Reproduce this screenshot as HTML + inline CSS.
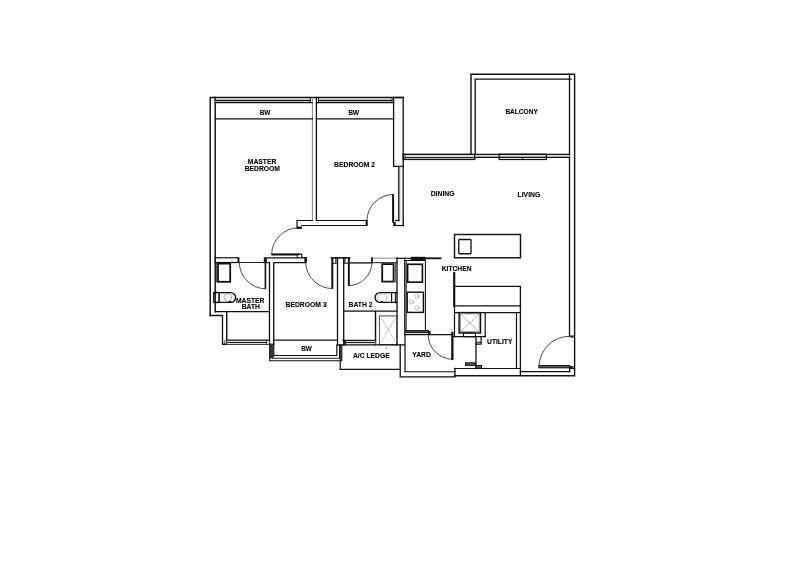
<!DOCTYPE html>
<html><head><meta charset="utf-8"><title>Floor plan</title>
<style>
html,body{margin:0;padding:0;background:#fff;}
body{width:800px;height:566px;overflow:hidden;}
svg{display:block;filter:grayscale(1);}
svg text{font-family:"Liberation Sans",sans-serif;font-weight:700;stroke:#000;stroke-width:0.12;fill:#000;}
</style></head><body>
<svg width="800" height="566" viewBox="0 0 800 566">
<rect width="800" height="566" fill="#fff"/>
<g stroke-linecap="square" stroke-linejoin="miter">
<path d="M210.2,315.5 L210.2,97.5 L403.2,97.5" stroke="#111" stroke-width="1.44" fill="none" />
<path d="M215.2,97.5 L215.2,311.7" stroke="#111" stroke-width="1.44" fill="none" />
<rect x="215.2" y="100.4" width="95.1" height="2.2" fill="#bbb"/>
<path d="M215.2,100.45 L310.3,100.45" stroke="#111" stroke-width="1.26" fill="none" />
<path d="M215.2,102.6 L312.5,102.6" stroke="#111" stroke-width="1.38" fill="none" />
<path d="M310.3,97.5 L310.3,102.6" stroke="#111" stroke-width="0.96" fill="none" />
<path d="M312.4,97.5 L312.4,220.5" stroke="#666" stroke-width="0.84" fill="none" />
<path d="M316.4,97.5 L316.4,220.5" stroke="#111" stroke-width="1.32" fill="none" />
<rect x="318.5" y="100.4" width="73.5" height="2.2" fill="#bbb"/>
<path d="M318.5,100.45 L392,100.45" stroke="#111" stroke-width="1.26" fill="none" />
<path d="M316.5,102.6 L393.6,102.6" stroke="#111" stroke-width="1.38" fill="none" />
<path d="M318.5,97.5 L318.5,102.6" stroke="#111" stroke-width="0.96" fill="none" />
<path d="M392,97.5 L392,102.6" stroke="#111" stroke-width="0.96" fill="none" />
<path d="M215.2,118.9 L312.4,118.9" stroke="#111" stroke-width="1.2" fill="none" />
<path d="M316.4,118.9 L393.6,118.9" stroke="#111" stroke-width="1.2" fill="none" />
<rect x="393.6" y="97.5" width="9.6" height="68.9" stroke="#111" stroke-width="1.32" fill="none"/>
<path d="M398.8,166.4 L398.8,220.5" stroke="#111" stroke-width="1.32" fill="none" />
<path d="M399.9,166.4 L399.9,220.5" stroke="#888" stroke-width="0.6" fill="none" />
<path d="M403.2,166.4 L403.2,225.5" stroke="#111" stroke-width="1.32" fill="none" />
<rect x="405" y="154.4" width="69.8" height="3.0" fill="#ddd"/>
<path d="M405,157.45 L474.8,157.45" stroke="#1a1a1a" stroke-width="1.02" fill="none" />
<path d="M405,154.2 L405,159.3" stroke="#111" stroke-width="0.84" fill="none" />
<rect x="403.2" y="154.3" width="71.6" height="5.1" stroke="#111" stroke-width="1.38" fill="none"/>
<path d="M471,154.2 L471,74.25 L574.6,74.25 L574.6,375.7 L454.6,375.7" stroke="#111" stroke-width="1.44" fill="none" />
<path d="M475.2,157.6 L475.2,79.2 L571,79.2" stroke="#111" stroke-width="1.32" fill="none" />
<path d="M569.5,74.25 L569.5,335.6" stroke="#111" stroke-width="1.32" fill="none" />
<rect x="475.2" y="154.4" width="94.3" height="3.0" fill="#ddd"/>
<path d="M475.2,154.4 L569.5,154.4" stroke="#111" stroke-width="1.2" fill="none" />
<path d="M475.2,157.4 L569.5,157.4" stroke="#111" stroke-width="1.2" fill="none" />
<rect x="499.2" y="154.2" width="47.1" height="5.3" stroke="#111" stroke-width="1.2" fill="none"/>
<path d="M522.75,157.6 L522.75,159.5" stroke="#111" stroke-width="0.96" fill="none" />
<path d="M569.5,336.1 L574.5,336.1" stroke="#111" stroke-width="1.2" fill="none" />
<rect x="570.5" y="336.1" width="3.0" height="1.7" fill="#333"/>
<path d="M569.5,368.6 L574.5,368.6" stroke="#111" stroke-width="1.08" fill="none" />
<rect x="570" y="366" width="3.5" height="2.2" fill="#333"/>
<rect x="538.9" y="365.6" width="30.7" height="2.2" stroke="#111" stroke-width="1.08" fill="#666"/>
<path d="M539,365.6 A30.2,30.2 0 0 1 569.4,336.3" stroke="#222" stroke-width="0.8" fill="none"/>
<path d="M520.4,371.7 L569.7,371.7" stroke="#111" stroke-width="1.2" fill="none" />
<path d="M569.7,366 L569.7,371.7" stroke="#111" stroke-width="1.2" fill="none" />
<path d="M316.4,220.5 L366.9,220.5 L366.9,225.5 L301.7,225.5" stroke="#111" stroke-width="1.2" fill="none" />
<path d="M312.4,220.5 L297,220.5 L297,228.3" stroke="#111" stroke-width="1.2" fill="none" />
<rect x="297" y="226.6" width="4.9" height="2.3" fill="#111"/>
<rect x="365.7" y="220.5" width="1.8" height="5.0" fill="#111"/>
<path d="M366.9,220.5 A26,26 0 0 1 393,194.5" stroke="#222" stroke-width="0.8" fill="none"/>
<rect x="392.1" y="194.3" width="2.0" height="28.3" fill="#111"/>
<rect x="393.3" y="222" width="2.4" height="3.5" fill="#111"/>
<path d="M395.5,220.5 L398.8,220.5" stroke="#111" stroke-width="1.2" fill="none" />
<path d="M393.6,225.5 L403.2,225.5" stroke="#111" stroke-width="1.2" fill="none" />
<path d="M298.3,227.8 A26.7,26.7 0 0 0 271.6,254.4" stroke="#222" stroke-width="0.8" fill="none"/>
<rect x="271.5" y="253.4" width="27.3" height="2.1" fill="#111"/>
<path d="M298.6,254.2 L301.7,254.2 L301.7,257.6 L306.2,257.6" stroke="#111" stroke-width="1.2" fill="none" />
<rect x="304.4" y="257.2" width="2.5" height="5.5" fill="#111"/>
<path d="M297.2,255.5 L297.2,257.9" stroke="#111" stroke-width="0.96" fill="none" />
<rect x="215.2" y="257.75" width="23.5" height="4.75" stroke="#111" stroke-width="1.2" fill="none"/>
<rect x="237.5" y="257.75" width="1.7" height="4.75" fill="#111"/>
<path d="M238.7,262.5 L264.8,262.5" stroke="#111" stroke-width="0.96" fill="none" />
<path d="M269.5,262.6 L264.4,262.6 L264.4,257.9 L301.7,257.9" stroke="#111" stroke-width="1.2" fill="none" />
<path d="M273.7,262.7 L305.4,262.7" stroke="#111" stroke-width="1.2" fill="none" />
<rect x="264.3" y="258" width="2.6" height="4.6" fill="#222"/>
<rect x="264.6" y="262.5" width="1.6" height="26.5" fill="#111"/>
<path d="M239.3,262.5 A26.2,26.2 0 0 0 265.3,288.8" stroke="#222" stroke-width="0.8" fill="none"/>
<path d="M269.5,262.6 L269.5,344.25" stroke="#111" stroke-width="1.32" fill="none" />
<path d="M273.7,262.6 L273.7,355.5" stroke="#111" stroke-width="1.32" fill="none" />
<rect x="218" y="263.6" width="12.2" height="18.2" stroke="#111" stroke-width="1.8" fill="none"/>
<path d="M216.3,263 L216.3,282" stroke="#111" stroke-width="0.84" fill="none" />
<rect x="213.9" y="292.6" width="5.2" height="9.8" stroke="#111" stroke-width="1.56" fill="none"/>
<path d="M219.1,292.6 H230.7 A4.9,4.9 0 0 1 230.7,302.4 H219.1" stroke="#111" stroke-width="1.4" fill="none"/>
<ellipse cx="227.8" cy="297.4" rx="3.8" ry="3.7" stroke="#777" stroke-width="0.6" fill="none"/>
<rect x="228.8" y="301" width="2.6" height="1.6" fill="#111"/>
<path d="M215.2,311.7 L269.3,311.7" stroke="#111" stroke-width="1.2" fill="none" />
<path d="M210.2,315.5 L222.5,315.5 L222.5,344.25 L269.3,344.25" stroke="#111" stroke-width="1.32" fill="none" />
<path d="M226.7,311.7 L226.7,344.25" stroke="#111" stroke-width="1.44" fill="none" />
<path d="M224.8,340.2 L224.8,344.25" stroke="#111" stroke-width="0.72" fill="none" />
<rect x="226.7" y="340.2" width="42.6" height="4.05" fill="#ddd"/>
<path d="M226.7,340.2 L269.3,340.2" stroke="#111" stroke-width="1.32" fill="none" />
<path d="M226.7,342.45 L266.5,342.45" stroke="#1a1a1a" stroke-width="1.02" fill="none" />
<path d="M266.5,340.2 L266.5,344.25" stroke="#111" stroke-width="0.72" fill="none" />
<path d="M273.8,340.2 L337.5,340.2" stroke="#111" stroke-width="1.2" fill="none" />
<rect x="269.75" y="345" width="4.05" height="13" fill="#3a3a3a"/>
<path d="M269.75,344.25 L269.75,360.75 L341.75,360.75 L341.75,345" stroke="#111" stroke-width="1.2" fill="none" />
<path d="M273.8,355.5 L336.8,355.5 L336.8,345" stroke="#111" stroke-width="1.2" fill="none" />
<path d="M271.8,357 L271.8,358.2 L339.5,358.2 L339.5,345" stroke="#222" stroke-width="1.08" fill="none" />
<path d="M269.3,344.25 L273.8,344.25" stroke="#111" stroke-width="1.2" fill="none" />
<rect x="331.3" y="257.9" width="2.0" height="30.9" fill="#111"/>
<path d="M305.6,262.7 A26.5,26.5 0 0 0 332.3,288.6" stroke="#222" stroke-width="0.8" fill="none"/>
<path d="M331.4,257.9 L349.75,257.9" stroke="#111" stroke-width="1.56" fill="none" />
<path d="M333.3,263.2 L335.9,263.2" stroke="#111" stroke-width="0.96" fill="none" />
<path d="M344.9,263.2 L347.9,263.2" stroke="#111" stroke-width="0.96" fill="none" />
<path d="M335.9,257.9 L335.9,263.3" stroke="#111" stroke-width="1.08" fill="none" />
<path d="M344.9,257.9 L344.9,263.3" stroke="#111" stroke-width="1.08" fill="none" />
<path d="M337.5,257.9 L337.5,345" stroke="#111" stroke-width="1.32" fill="none" />
<path d="M343.7,257.9 L343.7,345" stroke="#111" stroke-width="1.32" fill="none" />
<rect x="347.9" y="257.9" width="1.9" height="27.9" fill="#111"/>
<path d="M348.9,285.6 A22.9,22.9 0 0 0 371.9,262.9" stroke="#222" stroke-width="0.8" fill="none"/>
<path d="M349.8,262.9 L371.9,262.9" stroke="#111" stroke-width="1.32" fill="none" />
<path d="M371.9,262.7 L397,262.7" stroke="#111" stroke-width="0.96" fill="none" />
<path d="M371.9,258.2 L397,258.2" stroke="#555" stroke-width="0.72" fill="none" />
<rect x="371" y="257.4" width="1.8" height="5.6" fill="#111"/>
<path d="M397,257.9 L397,345" stroke="#111" stroke-width="1.32" fill="none" />
<path d="M404.8,258.25 L404.8,334.7" stroke="#111" stroke-width="1.32" fill="none" />
<path d="M397,258.3 L410.75,258.3" stroke="#111" stroke-width="1.2" fill="none" />
<rect x="382.2" y="264.1" width="11.4" height="17.5" stroke="#111" stroke-width="1.8" fill="none"/>
<path d="M395.4,263 L395.4,282" stroke="#111" stroke-width="0.72" fill="none" />
<path d="M395.4,292.7 L395.4,302.7" stroke="#111" stroke-width="1.08" fill="none" />
<path d="M391.6,292.7 L391.6,302.7" stroke="#111" stroke-width="1.2" fill="none" />
<path d="M397,292.6 H380 A4.9,4.9 0 0 0 380,302.4 H397" stroke="#111" stroke-width="1.4" fill="none"/>
<ellipse cx="382.3" cy="297.6" rx="4.6" ry="3.8" stroke="#888" stroke-width="0.5" fill="none"/>
<rect x="380.5" y="301.2" width="2.5" height="1.4" fill="#111"/>
<path d="M343.7,311.1 L397,311.1" stroke="#111" stroke-width="1.2" fill="none" />
<path d="M375.5,311.25 L375.5,344.7" stroke="#111" stroke-width="1.44" fill="none" />
<rect x="344.3" y="340.4" width="31.1" height="4.3" fill="#ddd"/>
<path d="M343,340.4 L375.5,340.4" stroke="#111" stroke-width="1.32" fill="none" />
<path d="M345,342.5 L374.5,342.5" stroke="#1a1a1a" stroke-width="1.02" fill="none" />
<rect x="343.6" y="340.4" width="2.4" height="4.4" fill="#333"/>
<path d="M345,340.2 L345,345" stroke="#111" stroke-width="0.72" fill="none" />
<rect x="379.4" y="315.9" width="17.5" height="28.7" stroke="#444" stroke-width="0.96" fill="none"/>
<path d="M381.4,318.3 L395.3,341.6" stroke="#888" stroke-width="0.48" fill="none" />
<path d="M395.3,318.3 L381.4,341.6" stroke="#888" stroke-width="0.48" fill="none" />
<path d="M337.5,344.9 L404.8,344.9" stroke="#111" stroke-width="1.2" fill="none" />
<path d="M340.25,345 L340.25,369.3 L400.25,369.3" stroke="#111" stroke-width="1.2" fill="none" />
<path d="M400.2,345 L400.2,376.8 L455,376.8 L455,368.5" stroke="#111" stroke-width="1.32" fill="none" />
<rect x="386" y="347.6" width="0.9" height="0.9" fill="#333"/>
<path d="M405,334.7 L405,371.75 L454.6,371.75" stroke="#111" stroke-width="1.2" fill="none" />
<rect x="410.75" y="256.8" width="14.65" height="3.2" fill="#111"/>
<path d="M425,258.3 L440.5,258.3" stroke="#111" stroke-width="1.8" fill="none" />
<path d="M404.8,260.5 L425.4,260.5 L425.4,330.8" stroke="#111" stroke-width="1.08" fill="none" />
<path d="M406.2,260.5 L406.2,330.8" stroke="#111" stroke-width="0.96" fill="none" />
<rect x="407.6" y="264.3" width="14.8" height="17.9" stroke="#111" stroke-width="1.68" fill="none"/>
<rect x="407.2" y="292.2" width="16.2" height="20.2" stroke="#111" stroke-width="1.44" fill="none"/>
<circle cx="416.75" cy="296.3" r="2.1" stroke="#777" stroke-width="0.5" fill="none"/>
<circle cx="411.2" cy="302" r="2.1" stroke="#777" stroke-width="0.5" fill="none"/>
<circle cx="416.75" cy="307.7" r="2.1" stroke="#777" stroke-width="0.5" fill="none"/>
<rect x="405.8" y="330.8" width="22.2" height="3.9" fill="#ddd"/>
<path d="M405.8,330.9 L428,330.9" stroke="#111" stroke-width="1.68" fill="none" />
<path d="M405.8,332.55 L428,332.55" stroke="#1a1a1a" stroke-width="1.02" fill="none" />
<path d="M404.75,334.7 L452.3,334.7" stroke="#111" stroke-width="1.2" fill="none" />
<rect x="428" y="330.8" width="2.6" height="4.4" fill="#111"/>
<rect x="451.2" y="331.8" width="2.3" height="28.1" fill="#111"/>
<path d="M428.2,334.7 A24.4,24.4 0 0 0 452.3,359.3" stroke="#222" stroke-width="0.8" fill="none"/>
<rect x="454.5" y="234.5" width="66.0" height="23.3" stroke="#111" stroke-width="1.44" fill="none"/>
<rect rx="0.8" x="458.75" y="239.5" width="12.25" height="14.25" stroke="#111" stroke-width="1.32" fill="none"/>
<path d="M454.2,273.25 L454.2,305.8" stroke="#111" stroke-width="2.16" fill="none" />
<path d="M454.25,286.3 L520.4,286.3 L520.4,375.7" stroke="#111" stroke-width="1.32" fill="none" />
<path d="M454.25,305.8 L520.6,305.8" stroke="#111" stroke-width="1.2" fill="none" />
<path d="M454.5,312.6 L520.4,312.6" stroke="#111" stroke-width="1.2" fill="none" />
<path d="M454.5,305.8 L454.5,336.7" stroke="#111" stroke-width="1.2" fill="none" />
<rect x="459.1" y="312.6" width="21.4" height="20.4" stroke="#111" stroke-width="1.44" fill="none"/>
<rect x="460.4" y="313.9" width="18.8" height="17.8" stroke="#777" stroke-width="0.72" fill="none"/>
<path d="M461.5,315 L478.2,330.8" stroke="#777" stroke-width="0.54" fill="none" />
<path d="M478.2,315 L461.5,330.8" stroke="#777" stroke-width="0.54" fill="none" />
<rect x="463.5" y="333" width="11.9" height="3.7" stroke="#111" stroke-width="1.08" fill="none"/>
<path d="M452.3,336.7 L485.1,336.7" stroke="#111" stroke-width="1.2" fill="none" />
<path d="M485.2,312.6 L485.2,336.7" stroke="#111" stroke-width="1.2" fill="none" />
<path d="M481.1,336.7 L481.1,344.2 L476,344.2" stroke="#111" stroke-width="1.2" fill="none" />
<path d="M476,342.3 L481.1,342.3" stroke="#111" stroke-width="0.96" fill="none" />
<path d="M476,336.7 L476,368.5" stroke="#111" stroke-width="1.32" fill="none" />
<rect x="465.6" y="362.9" width="9.7" height="2.4" stroke="#111" stroke-width="1.2" fill="#777"/>
<rect x="476" y="365.6" width="5.4" height="2.7" stroke="#111" stroke-width="1.2" fill="#777"/>
<path d="M516.5,312.6 L516.5,368.5" stroke="#111" stroke-width="1.2" fill="none" />
<path d="M454.6,368.5 L520.4,368.5" stroke="#111" stroke-width="1.2" fill="none" />
</g>
<g opacity="0.99">
<text x="259.65" y="115.0" font-size="7.4" textLength="10.7" lengthAdjust="spacingAndGlyphs">BW</text>
<text x="348.45" y="115.0" font-size="7.4" textLength="10.7" lengthAdjust="spacingAndGlyphs">BW</text>
<text x="247.8" y="164.4" font-size="7.4" textLength="28.6" lengthAdjust="spacingAndGlyphs">MASTER</text>
<text x="244.7" y="171.3" font-size="7.4" textLength="35.2" lengthAdjust="spacingAndGlyphs">BEDROOM</text>
<text x="334.1" y="167.1" font-size="7.4" textLength="41" lengthAdjust="spacingAndGlyphs">BEDROOM 2</text>
<text x="505.4" y="113.7" font-size="7.4" textLength="32.4" lengthAdjust="spacingAndGlyphs">BALCONY</text>
<text x="430.7" y="195.7" font-size="7.4" textLength="23.8" lengthAdjust="spacingAndGlyphs">DINING</text>
<text x="517.5" y="196.6" font-size="7.4" textLength="22.8" lengthAdjust="spacingAndGlyphs">LIVING</text>
<text x="235.9" y="302.8" font-size="7.4" textLength="28.6" lengthAdjust="spacingAndGlyphs">MASTER</text>
<text x="241.7" y="308.7" font-size="7.4" textLength="18.2" lengthAdjust="spacingAndGlyphs">BATH</text>
<text x="285.5" y="307.1" font-size="7.4" textLength="41.2" lengthAdjust="spacingAndGlyphs">BEDROOM 3</text>
<text x="348.5" y="307.1" font-size="7.4" textLength="24" lengthAdjust="spacingAndGlyphs">BATH 2</text>
<text x="301.15" y="350.5" font-size="7.4" textLength="10.7" lengthAdjust="spacingAndGlyphs">BW</text>
<text x="352.95" y="358.1" font-size="7.4" textLength="36.7" lengthAdjust="spacingAndGlyphs">A/C LEDGE</text>
<text x="441.7" y="270.9" font-size="7.4" textLength="29.8" lengthAdjust="spacingAndGlyphs">KITCHEN</text>
<text x="412.25" y="357.2" font-size="7.4" textLength="18.7" lengthAdjust="spacingAndGlyphs">YARD</text>
<text x="487.05" y="344.0" font-size="7.4" textLength="25.3" lengthAdjust="spacingAndGlyphs">UTILITY</text>
</g>
</svg>
</body></html>
